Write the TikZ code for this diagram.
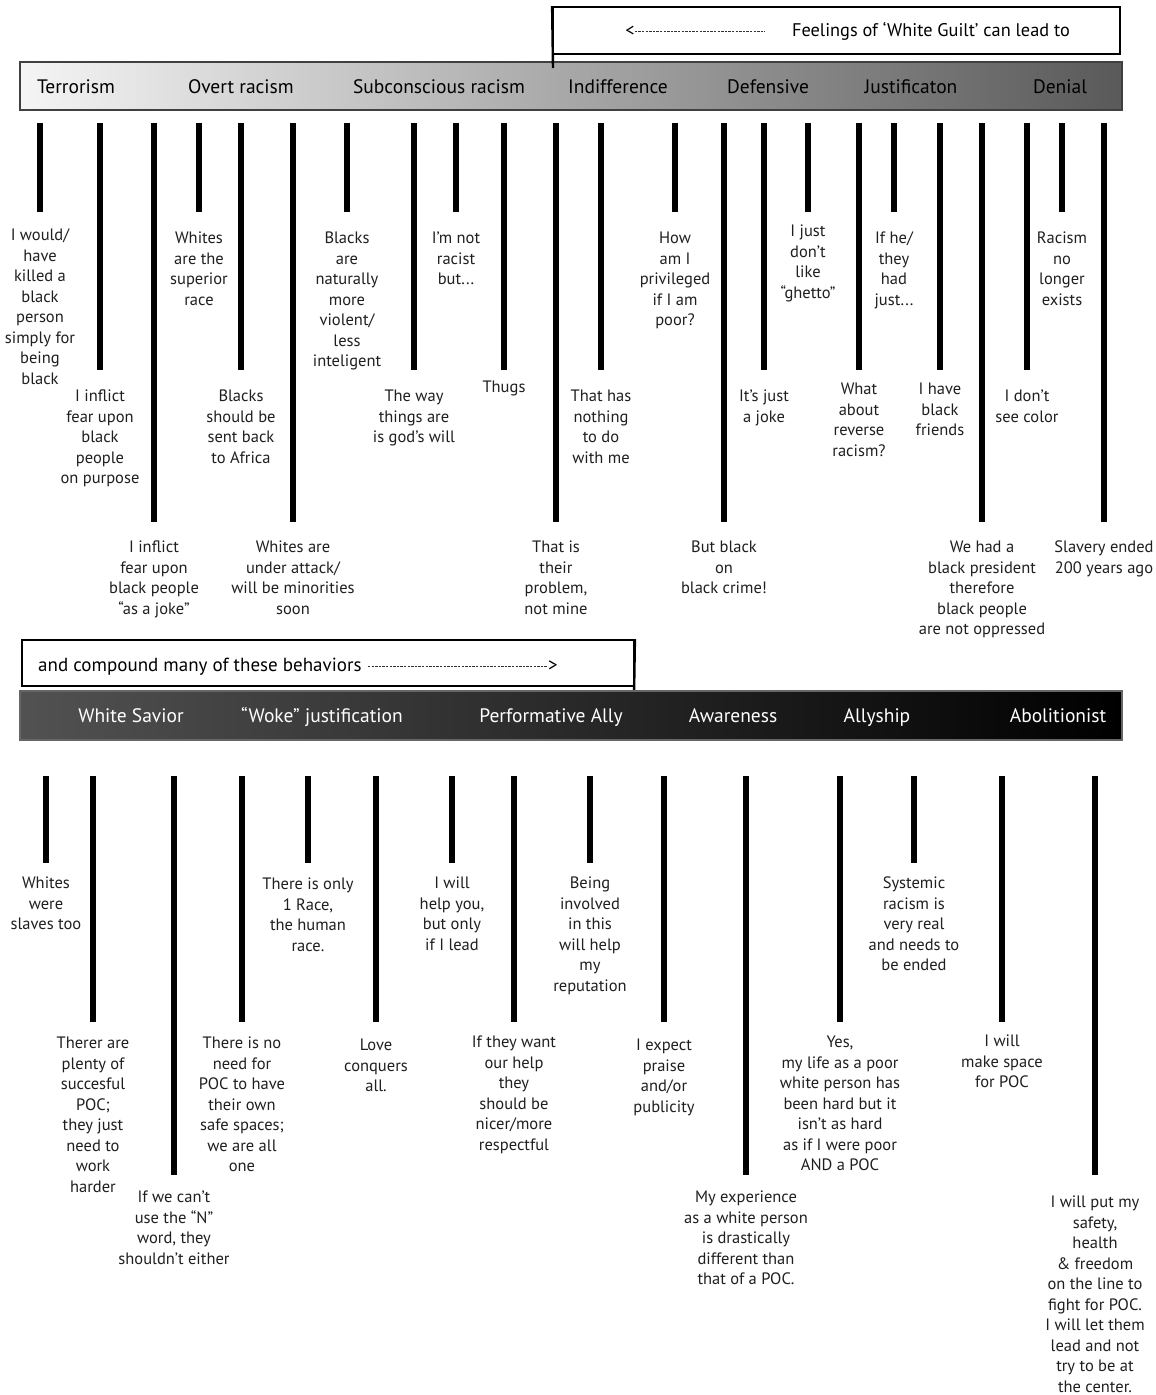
\documentclass[tikz,border=0pt]{standalone}
\usepackage{fontspec}
\setmainfont{PT Sans}
\usetikzlibrary{positioning}

\begin{document}
\begin{tikzpicture}[x=1pt,y=-1pt,
  stem/.style={line width=5.5pt},
  say/.style={align=center,inner sep=0pt,text=black!88,font=\fontsize{16.5}{20.5}\selectfont},
  head/.style={inner sep=0pt,anchor=base,font=\fontsize{19.5}{23}\selectfont},
  band/.style={minimum width=1102pt,minimum height=48pt,inner sep=0pt,draw=black!75,line width=1.2pt},
  frame/.style={draw,line width=1.8pt},
  dashes/.style={line width=0.8pt,black!80,dash pattern=on 2.4pt off 1.2pt}]
\useasboundingbox[fill=white] (0,0) rectangle (1156,1395);

\node[band,left color=black!4,right color=black!65] (upper) at (571,86) {};
\node[head] (terror) at (76,93) {Terrorism};
\node[head] (overt) at (241,93) {Overt racism};
\node[head] (subcon) at (439,93) {Subconscious racism};
\node[head] (indiff) at (618,93) {Indifference};
\node[head] (defens) at (768,93) {Defensive};
\node[head] (justif) at (911,93) {Justificaton};
\node[head] (denial) at (1060,93) {Denial};

\node[frame,minimum width=567pt,minimum height=47pt,inner sep=0pt] (guilt) at (836.5,30.5) {};
\coordinate (gtip) at (553,68);
\draw[line width=2.4pt] (guilt.north west) -- (gtip);
\node[head,font=\fontsize{18.3}{22}\selectfont] (feel) at (931,36) {Feelings of ‘White Guilt’ can lead to};
\node[head,font=\fontsize{18.3}{22}\selectfont] (lt) at (630,36) {<};
\coordinate (ltend) at (765,31);
\draw[dashes] (lt.east |- ltend) -- (ltend);

\coordinate (t1) at (40,123); \coordinate (b1) at (40,212); \draw[stem] (t1) -- (b1);
\node[say,below=17pt of b1] (q1) {I would/\\have\\killed a\\black\\person\\simply for\\being\\black};
\coordinate (t2) at (100,123); \coordinate (b2) at (100,370); \draw[stem] (t2) -- (b2);
\node[say,below=20pt of b2] (q2) {I inflict\\fear upon\\black\\people\\on purpose};
\coordinate (t3) at (154,123); \coordinate (b3) at (154,522); \draw[stem] (t3) -- (b3);
\node[say,below=19pt of b3] (q3) {I inflict\\fear upon\\black people\\``as a joke''};
\coordinate (t4) at (199,123); \coordinate (b4) at (199,212); \draw[stem] (t4) -- (b4);
\node[say,below=20pt of b4] (q4) {Whites\\are the\\superior\\race};
\coordinate (t5) at (241,123); \coordinate (b5) at (241,370); \draw[stem] (t5) -- (b5);
\node[say,below=20pt of b5] (q5) {Blacks\\should be\\sent back\\to Africa};
\coordinate (t6) at (293,123); \coordinate (b6) at (293,522); \draw[stem] (t6) -- (b6);
\node[say,below=19pt of b6] (q6) {Whites are\\under attack/\\will be minorities\\soon};
\coordinate (t7) at (347,123); \coordinate (b7) at (347,212); \draw[stem] (t7) -- (b7);
\node[say,below=20pt of b7] (q7) {Blacks\\are\\naturally\\more\\violent/\\less\\inteligent};
\coordinate (t8) at (414,123); \coordinate (b8) at (414,370); \draw[stem] (t8) -- (b8);
\node[say,below=20pt of b8] (q8) {The way\\things are\\is god's will};
\coordinate (t9) at (456,123); \coordinate (b9) at (456,212); \draw[stem] (t9) -- (b9);
\node[say,below=20pt of b9] (q9) {I'm not\\racist\\but...};
\coordinate (t10) at (504,123); \coordinate (b10) at (504,370); \draw[stem] (t10) -- (b10);
\node[say,below=11pt of b10] (q10) {Thugs};
\coordinate (t11) at (556,123); \coordinate (b11) at (556,522); \draw[stem] (t11) -- (b11);
\node[say,below=19pt of b11] (q11) {That is\\their\\problem,\\not mine};
\coordinate (t12) at (601,123); \coordinate (b12) at (601,370); \draw[stem] (t12) -- (b12);
\node[say,below=20pt of b12] (q12) {That has\\nothing\\to do\\with me};
\coordinate (t13) at (675,123); \coordinate (b13) at (675,212); \draw[stem] (t13) -- (b13);
\node[say,below=20pt of b13] (q13) {How\\am I\\privileged\\if I am\\poor?};
\coordinate (t14) at (724,123); \coordinate (b14) at (724,522); \draw[stem] (t14) -- (b14);
\node[say,below=19pt of b14] (q14) {But black\\on\\black crime!};
\coordinate (t15) at (764,123); \coordinate (b15) at (764,370); \draw[stem] (t15) -- (b15);
\node[say,below=20pt of b15] (q15) {It's just\\a joke};
\coordinate (t16) at (808,123); \coordinate (b16) at (808,212); \draw[stem] (t16) -- (b16);
\node[say,below=13pt of b16] (q16) {I just\\don't\\like\\``ghetto''};
\coordinate (t17) at (859,123); \coordinate (b17) at (859,370); \draw[stem] (t17) -- (b17);
\node[say,below=13pt of b17] (q17) {What\\about\\reverse\\racism?};
\coordinate (t18) at (894,123); \coordinate (b18) at (894,212); \draw[stem] (t18) -- (b18);
\node[say,below=20pt of b18] (q18) {If he/\\they\\had\\just...};
\coordinate (t19) at (940,123); \coordinate (b19) at (940,370); \draw[stem] (t19) -- (b19);
\node[say,below=13pt of b19] (q19) {I have\\black\\friends};
\coordinate (t20) at (982,123); \coordinate (b20) at (982,522); \draw[stem] (t20) -- (b20);
\node[say,below=19pt of b20] (q20) {We had a\\black president\\therefore\\black people\\are not oppressed};
\coordinate (t21) at (1027,123); \coordinate (b21) at (1027,370); \draw[stem] (t21) -- (b21);
\node[say,below=20pt of b21] (q21) {I don't\\see color};
\coordinate (t22) at (1062,123); \coordinate (b22) at (1062,212); \draw[stem] (t22) -- (b22);
\node[say,below=20pt of b22] (q22) {Racism\\no\\longer\\exists};
\coordinate (t23) at (1104,123); \coordinate (b23) at (1104,522); \draw[stem] (t23) -- (b23);
\node[say,below=19pt of b23] (q23) {Slavery ended\\200 years ago};

\node[frame,minimum width=612pt,minimum height=46pt,inner sep=0pt] (compound) at (328,663) {};
\coordinate (ctip) at (634,697);
\draw[line width=2.4pt] (compound.north east) -- (ctip);
\node[head,font=\fontsize{19}{23}\selectfont,anchor=base west] (cmp) at (38,671) {and compound many of these behaviors};
\node[head,font=\fontsize{19}{23}\selectfont] (gt) at (553,671) {>};
\coordinate (cstart) at (368,666);
\draw[dashes] (cstart) -- (gt.west |- cstart);

\node[band,minimum height=49pt,draw=black!60,left color=black!68,right color=black] (lower) at (571,715.5) {};
\node[head,text=white] (savior) at (131,722) {White Savior};
\node[head,text=white] (woke) at (322,722) {``Woke'' justification};
\node[head,text=white] (perform) at (551,722) {Performative Ally};
\node[head,text=white] (aware) at (733,722) {Awareness};
\node[head,text=white] (ally) at (877,722) {Allyship};
\node[head,text=white] (abol) at (1058,722) {Abolitionist};

\coordinate (u1) at (46,776); \coordinate (d1) at (46,863); \draw[stem] (u1) -- (d1);
\node[say,below=14pt of d1] (p1) {Whites\\were\\slaves too};
\coordinate (u2) at (93,776); \coordinate (d2) at (93,1022); \draw[stem] (u2) -- (d2);
\node[say,below=15pt of d2] (p2) {Therer are\\plenty of\\succesful\\POC;\\they just\\need to\\work\\harder};
\coordinate (u3) at (174,776); \coordinate (d3) at (174,1175); \draw[stem] (u3) -- (d3);
\node[say,below=16pt of d3] (p3) {If we can't\\use the ``N''\\word, they\\shouldn't either};
\coordinate (u4) at (242,776); \coordinate (d4) at (242,1022); \draw[stem] (u4) -- (d4);
\node[say,below=15pt of d4] (p4) {There is no\\need for\\POC to have\\their own\\safe spaces;\\we are all\\one};
\coordinate (u5) at (308,776); \coordinate (d5) at (308,863); \draw[stem] (u5) -- (d5);
\node[say,below=15pt of d5] (p5) {There is only\\1 Race,\\the human\\race.};
\coordinate (u6) at (376,776); \coordinate (d6) at (376,1022); \draw[stem] (u6) -- (d6);
\node[say,below=17pt of d6] (p6) {Love\\conquers\\all.};
\coordinate (u7) at (452,776); \coordinate (d7) at (452,863); \draw[stem] (u7) -- (d7);
\node[say,below=14pt of d7] (p7) {I will\\help you,\\but only\\if I lead};
\coordinate (u8) at (514,776); \coordinate (d8) at (514,1022); \draw[stem] (u8) -- (d8);
\node[say,below=14pt of d8] (p8) {If they want\\our help\\they\\should be\\nicer/more\\respectful};
\coordinate (u9) at (590,776); \coordinate (d9) at (590,863); \draw[stem] (u9) -- (d9);
\node[say,below=14pt of d9] (p9) {Being\\involved\\in this\\will help\\my\\reputation};
\coordinate (u10) at (664,776); \coordinate (d10) at (664,1022); \draw[stem] (u10) -- (d10);
\node[say,below=17pt of d10] (p10) {I expect\\praise\\and/or\\publicity};
\coordinate (u11) at (746,776); \coordinate (d11) at (746,1175); \draw[stem] (u11) -- (d11);
\node[say,below=16pt of d11] (p11) {My experience\\as a white person\\is drastically\\different than\\that of a POC.};
\coordinate (u12) at (840,776); \coordinate (d12) at (840,1022); \draw[stem] (u12) -- (d12);
\node[say,below=14pt of d12] (p12) {Yes,\\my life as a poor\\white person has\\been hard but it\\isn't as hard\\as if I were poor\\AND a POC};
\coordinate (u13) at (914,776); \coordinate (d13) at (914,863); \draw[stem] (u13) -- (d13);
\node[say,below=14pt of d13] (p13) {Systemic\\racism is\\very real\\and needs to\\be ended};
\coordinate (u14) at (1002,776); \coordinate (d14) at (1002,1022); \draw[stem] (u14) -- (d14);
\node[say,below=13pt of d14] (p14) {I will\\make space\\for POC};
\coordinate (u15) at (1095,776); \coordinate (d15) at (1095,1175); \draw[stem] (u15) -- (d15);
\node[say,below=21pt of d15] (p15) {I will put my\\safety,\\health\\\& freedom\\on the line to\\fight for POC.\\I will let them\\lead and not\\try to be at\\the center.};
\end{tikzpicture}
\end{document}
